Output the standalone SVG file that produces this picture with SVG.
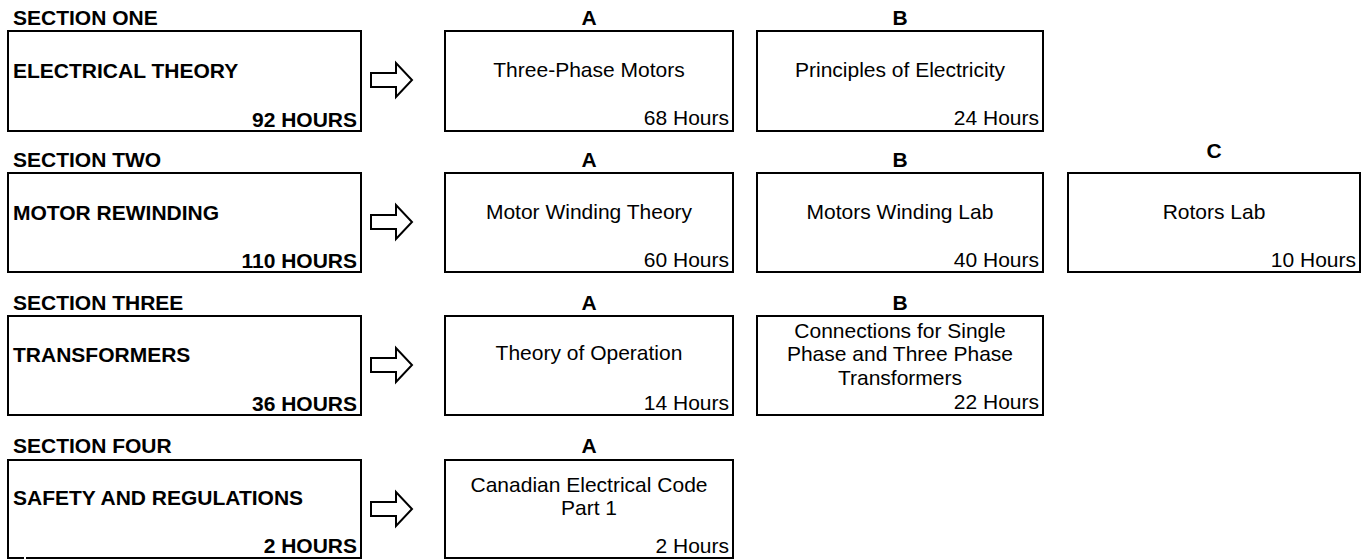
<svg xmlns="http://www.w3.org/2000/svg" width="1366" height="560" viewBox="0 0 1366 560">
<style>
.box{fill:#fff;stroke:#000;stroke-width:2}
.arr{fill:#fff;stroke:#000;stroke-width:2;stroke-linejoin:miter}
text{font-family:"Liberation Sans",Arial,sans-serif;font-size:21px;fill:#000}
.b{font-weight:bold}
.c{text-anchor:middle}
.r{text-anchor:end}
</style>
<defs>
<path id="arrow" class="arr" d="M371,-7 H396 V-17 L412,0 L396,17 V7 H371 Z"/>
</defs>
<rect width="1366" height="560" fill="#fff"/>

<!-- Section labels -->
<text class="b" x="13" y="25">SECTION ONE</text>
<text class="b" x="13" y="167">SECTION TWO</text>
<text class="b" x="13" y="310">SECTION THREE</text>
<text class="b" x="13" y="453">SECTION FOUR</text>

<!-- Row 1 -->
<g id="s1">
<rect class="box" x="8" y="31" width="353" height="100"/>
<text class="b" x="13" y="78">ELECTRICAL THEORY</text>
<text class="b r" x="357" y="127">92 HOURS</text>
</g>
<g id="s1a">
<text class="b c" x="589" y="25">A</text>
<rect class="box" x="445" y="31" width="288" height="100"/>
<text class="c" x="589" y="77">Three-Phase Motors</text>
<text class="r" x="729" y="125">68 Hours</text>
</g>
<g id="s1b">
<text class="b c" x="900" y="25">B</text>
<rect class="box" x="757" y="31" width="286" height="100"/>
<text class="c" x="900" y="77">Principles of Electricity</text>
<text class="r" x="1039" y="125">24 Hours</text>
</g>

<!-- Row 2 -->
<g id="s2">
<rect class="box" x="8" y="173" width="353" height="99"/>
<text class="b" x="13" y="220">MOTOR REWINDING</text>
<text class="b r" x="357" y="268">110 HOURS</text>
</g>
<g id="s2a">
<text class="b c" x="589" y="167">A</text>
<rect class="box" x="445" y="173" width="288" height="99"/>
<text class="c" x="589" y="219">Motor Winding Theory</text>
<text class="r" x="729" y="267">60 Hours</text>
</g>
<g id="s2b">
<text class="b c" x="900" y="167">B</text>
<rect class="box" x="757" y="173" width="286" height="99"/>
<text class="c" x="900" y="219">Motors Winding Lab</text>
<text class="r" x="1039" y="267">40 Hours</text>
</g>
<g id="s2c">
<text class="b c" x="1214" y="158">C</text>
<rect class="box" x="1068" y="173" width="292" height="99"/>
<text class="c" x="1214" y="219">Rotors Lab</text>
<text class="r" x="1356" y="267">10 Hours</text>
</g>

<!-- Row 3 -->
<g id="s3">
<rect class="box" x="8" y="316" width="353" height="99"/>
<text class="b" x="13" y="362">TRANSFORMERS</text>
<text class="b r" x="357" y="411">36 HOURS</text>
</g>
<g id="s3a">
<text class="b c" x="589" y="310">A</text>
<rect class="box" x="445" y="316" width="288" height="99"/>
<text class="c" x="589" y="360">Theory of Operation</text>
<text class="r" x="729" y="410">14 Hours</text>
</g>
<g id="s3b">
<text class="b c" x="900" y="310">B</text>
<rect class="box" x="757" y="316" width="286" height="99"/>
<text class="c" x="900" y="338">Connections for Single</text>
<text class="c" x="900" y="361">Phase and Three Phase</text>
<text class="c" x="900" y="385">Transformers</text>
<text class="r" x="1039" y="409">22 Hours</text>
</g>

<!-- Row 4 -->
<g id="s4">
<rect class="box" x="8" y="460" width="353" height="98"/>
<text class="b" x="13" y="505">SAFETY AND REGULATIONS</text>
<text class="b r" x="357" y="553">2 HOURS</text>
</g>
<g id="s4a">
<text class="b c" x="589" y="453">A</text>
<rect class="box" x="445" y="460" width="288" height="98"/>
<text class="c" x="589" y="492">Canadian Electrical Code</text>
<text class="c" x="589" y="515">Part 1</text>
<text class="r" x="729" y="553">2 Hours</text>
</g>
<rect x="24" y="556" width="2" height="4" fill="#fff"/>

<!-- Connectors -->
<g id="connectors">
<use href="#arrow" y="80"/>
<use href="#arrow" y="222"/>
<use href="#arrow" y="365"/>
<use href="#arrow" y="509"/>
</g>
</svg>
